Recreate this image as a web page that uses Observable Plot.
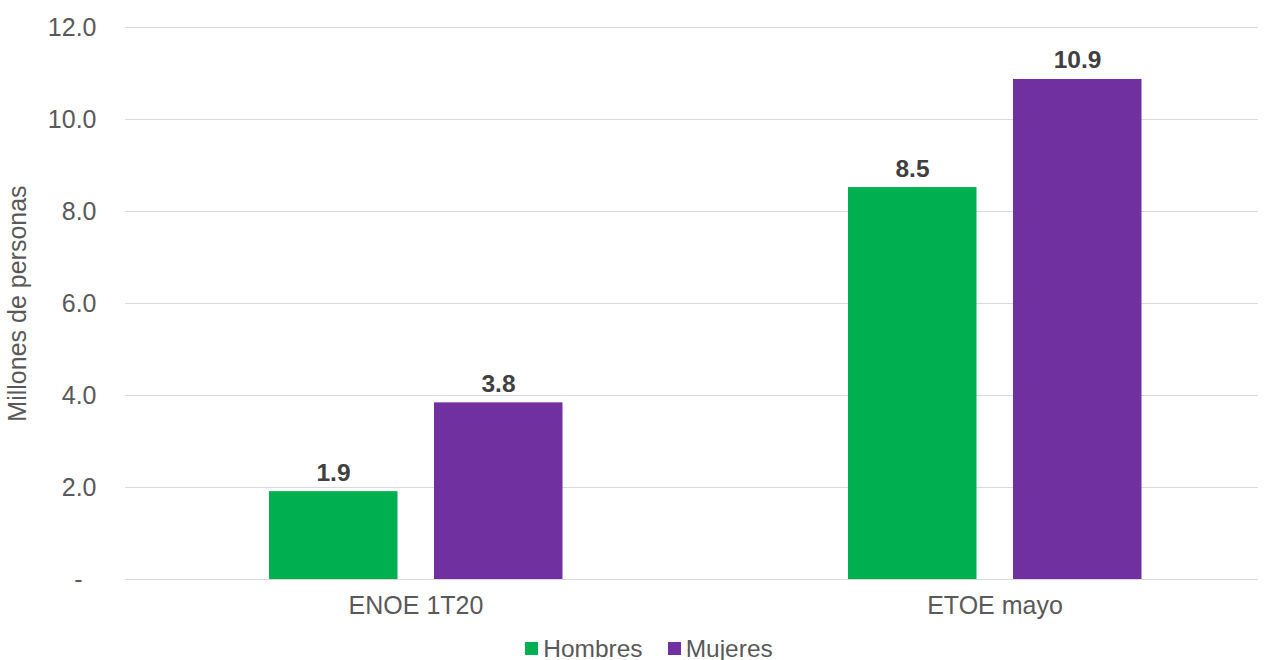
<!DOCTYPE html>
<html>
<head>
<meta charset="utf-8">
<script src="https://cdn.jsdelivr.net/npm/d3@7"></script>
<script src="https://cdn.jsdelivr.net/npm/@observablehq/plot@0.6"></script>
<style>
  html, body { margin: 0; padding: 0; background: white; }
  #legend { display: flex; justify-content: center; align-items: center; gap: 25px;
    font-family: "Liberation Sans", Arial, sans-serif; font-size: 24.5px; color: #595959;
    height: 35px; padding-left: 25px; margin-top: 6px; }
  #legend span.item { display: flex; align-items: center; gap: 5px; }
  #legend span.sw { width: 13px; height: 13px; display: inline-block; }
</style>
</head>
<body>
<div id="chart"></div>
<div id="legend"></div>
<script>
const categories = ["ENOE 1T20", "ETOE mayo"];
const series = ["Hombres", "Mujeres"];
const colors = ["#00B050", "#7030A0"];
const hombres = [1.91, 8.52];
const mujeres = [3.84, 10.87];
const yTicks = [0, 2, 4, 6, 8, 10, 12];

const data = categories.flatMap((c, i) => [
  {group: c, series: "Hombres", value: hombres[i]},
  {group: c, series: "Mujeres", value: mujeres[i]}
]);
const fmt = d3.format(".1f");
const tickFmt = d => d === 0 ? "-\u2007" : d.toFixed(1);

const chart = Plot.plot({
  width: 1273,
  height: 625,
  marginLeft: 125,
  marginRight: 15,
  marginTop: 27,
  marginBottom: 46,
  style: {fontFamily: "'Liberation Sans', Arial, sans-serif", fontSize: "25px", color: "#595959", background: "white"},
  x: {domain: categories, range: [125, 1284], padding: 0},
  y: {domain: [0, 12]},
  color: {domain: series, range: colors},
  marks: [
    Plot.ruleY(yTicks, {stroke: "#d9d9d9", strokeWidth: 1}),
    Plot.barY(data.filter(d => d.series === "Hombres"), {x: "group", y: "value", fill: "series", insetLeft: 143, insetRight: 307.5}),
    Plot.barY(data.filter(d => d.series === "Mujeres"), {x: "group", y: "value", fill: "series", insetLeft: 308, insetRight: 142.5}),
    Plot.text(data.filter(d => d.series === "Hombres"), {x: "group", y: "value", text: d => fmt(d.value), dx: -82.5, dy: -11, lineAnchor: "bottom", fontWeight: "bold", fill: "#404040", fontSize: 24.5}),
    Plot.text(data.filter(d => d.series === "Mujeres"), {x: "group", y: "value", text: d => fmt(d.value), dx: 82.5, dy: -11, lineAnchor: "bottom", fontWeight: "bold", fill: "#404040", fontSize: 24.5}),
    Plot.axisY({ticks: yTicks, tickSize: 0, tickPadding: 29, tickFormat: tickFmt, fill: "#595959",
      label: "Millones de personas", labelAnchor: "center", labelArrow: "none", labelOffset: 117}),
    Plot.axisX({tickSize: 0, tickPadding: 17, fill: "#595959", label: null})
  ]
});
document.getElementById("chart").appendChild(chart);

const legend = document.getElementById("legend");
series.forEach((s, i) => {
  const item = document.createElement("span");
  item.className = "item";
  const sw = document.createElement("span");
  sw.className = "sw";
  sw.style.background = colors[i];
  item.appendChild(sw);
  item.appendChild(document.createTextNode(s));
  legend.appendChild(item);
});
</script>
</body>
</html>
